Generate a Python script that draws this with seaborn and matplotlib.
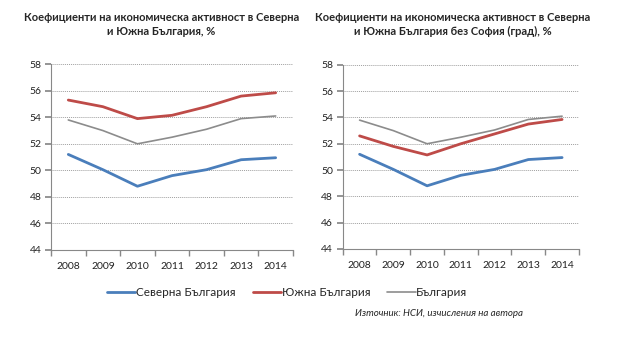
import matplotlib
matplotlib.use("Agg")
import matplotlib.pyplot as plt
import seaborn as sns
import pandas as pd
import numpy as np
from matplotlib.ticker import FixedLocator

years = ["2008", "2009", "2010", "2011", "2012", "2013", "2014"]
north = [51.2, 50.05, 48.8, 49.6, 50.05, 50.8, 50.95]
south = [55.3, 54.8, 53.9, 54.15, 54.8, 55.6, 55.85]
bulgaria = [53.8, 53.0, 52.0, 52.5, 53.1, 53.9, 54.1]
north_ns = [51.2, 50.05, 48.8, 49.6, 50.05, 50.8, 50.95]
south_ns = [52.6, 51.8, 51.15, 52.0, 52.75, 53.5, 53.85]
bulgaria_ns = [53.8, 53.0, 52.0, 52.5, 53.05, 53.85, 54.1]

names = ["Северна България", "Южна България", "България"]
colors = ["#4a7ebb", "#be4b48", "#8c8c8c"]
widths = [2.0, 2.0, 1.2]
title_l = "Коефициенти на икономическа активност в Северна\nи Южна България, %"
title_r = "Коефициенти на икономическа активност в Северна\nи Южна България без София (град), %"
source = "Източник: НСИ, изчисления на автора"
yticks = [44, 46, 48, 50, 52, 54, 56, 58]

sns.set_theme(style="white")
plt.rcParams['font.family'] = ['Lato', 'DejaVu Sans']

fig = plt.figure(figsize=(6.3, 3.4), dpi=100)
axL = fig.add_axes([0.081, 0.265, 0.384, 0.546])
axR = fig.add_axes([0.544, 0.268, 0.375, 0.541])

def build(series):
    rows = []
    for name, vals in zip(names, series):
        for i, v in enumerate(vals):
            rows.append({"x": i, "value": v, "series": name})
    return pd.DataFrame(rows)

def draw(ax, series, legend=False):
    df = build(series)
    for name, c, w in zip(names, colors, widths):
        sub = df[df["series"] == name]
        sns.lineplot(data=sub, x="x", y="value", ax=ax, color=c, linewidth=w,
                     label=name if legend else None, legend=False)
    ax.set_xlim(-0.5, len(years) - 0.5)
    ax.set_ylim(44, 58)
    ax.set_yticks(yticks)
    ax.set_yticklabels([str(t) for t in yticks], fontsize=7.5, color="#222222")
    ax.set_xticks(range(len(years)))
    ax.set_xticklabels(years, fontsize=7.5, color="#222222")
    ax.xaxis.set_minor_locator(FixedLocator(np.arange(-0.5, len(years), 1.0)))
    ax.tick_params(axis="x", which="major", length=0, pad=9)
    ax.tick_params(axis="x", which="minor", length=4, color="#888888", direction="out", bottom=True)
    ax.tick_params(axis="y", length=4, color="#888888", direction="out", left=True, pad=3)
    ax.grid(axis="y", color="#a0a0a0", linestyle=(0, (1, 1)), linewidth=0.7)
    ax.set_axisbelow(True)
    for s in ["top", "right"]:
        ax.spines[s].set_visible(False)
    for s in ["left", "bottom"]:
        ax.spines[s].set_color("#888888")
        ax.spines[s].set_linewidth(0.8)
    ax.set_xlabel("")
    ax.set_ylabel("")

draw(axL, [north, south, bulgaria], legend=True)
draw(axR, [north_ns, south_ns, bulgaria_ns])

fig.text(0.256, 0.965, title_l, ha="center", va="top", fontsize=8, fontweight="bold",
         linespacing=1.35)
fig.text(0.718, 0.965, title_r, ha="center", va="top", fontsize=8, fontweight="bold",
         linespacing=1.35)

handles, labels = axL.get_legend_handles_labels()
fig.legend(handles, labels, loc="center", bbox_to_anchor=(0.456, 0.14), ncol=3,
           frameon=False, fontsize=8.5, handlelength=2.4, handletextpad=0.05,
           columnspacing=1.45)

fig.text(0.563, 0.078, source, ha="left", va="center", fontsize=7, style="italic")

fig.savefig("out.png", dpi=100)
